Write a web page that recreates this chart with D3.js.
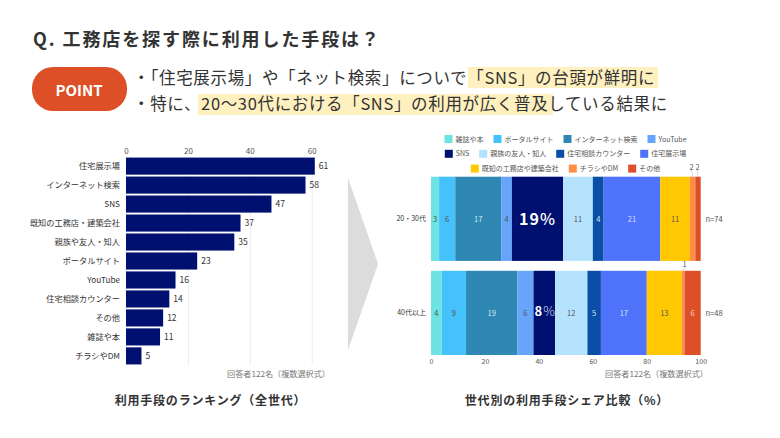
<!DOCTYPE html>
<html>
<head>
<meta charset="utf-8">
<script src="https://cdnjs.cloudflare.com/ajax/libs/d3/7.8.5/d3.min.js"></script>
<style>
  body { margin: 0; background: #fff; }
  text { font-family: "Noto Sans CJK JP", "Noto Sans", sans-serif; fill: #333; }
  .tick line { stroke: #eee; }
  .tick text { fill: #555; }
</style>
</head>
<body>
<div id="chart-area"></div>
<script>
// ranking (all generations)
let rankNames = ["住宅展示場", "インターネット検索", "SNS", "既知の工務店・建築会社", "親族や友人・知人", "ポータルサイト", "YouTube", "住宅相談カウンター", "その他", "雑誌や本", "チラシやDM"];
let rankValues = [61, 58, 47, 37, 35, 23, 16, 14, 12, 11, 5];

// share by generation
let shareNames = ["雑誌や本", "ポータルサイト", "インターネット検索", "YouTube", "SNS", "親族の友人・知人", "住宅相談カウンター", "住宅展示場", "既知の工務店や建築会社", "チラシやDM", "その他"];
let shareColors = ["#6ee3e3", "#45c1fb", "#2e88b3", "#66a5fb", "#001070", "#b5e2fd", "#0a4ea8", "#4f74fb", "#ffc800", "#ff8c47", "#dd4f26"];
let labelColors = ["#555", "#555", "#d5e8f2", "#555", "#fff", "#555", "#d5e8f2", "#d5e0ff", "#555", "#555", "#f5d5c8"];
let groups = ["20・30代", "40代以上"];
let groupN = ["n=74", "n=48"];
let young = [3, 6, 17, 4, 19, 11, 4, 21, 11, 2, 2];
let older = [4, 9, 19, 6, 8, 12, 5, 17, 13, 1, 6];
let legendRows = [[0, 1, 2, 3], [4, 5, 6, 7], [8, 9, 10]];

let svg = d3.select("#chart-area").append("svg")
    .attr("width", 780)
    .attr("height", 438);

// header
svg.append("text")
    .attr("x", 33).attr("y", 46)
    .attr("font-size", 18).attr("font-weight", 700)
    .attr("letter-spacing", 1.9)
    .text("Q. 工務店を探す際に利用した手段は？");

svg.append("rect").attr("x", 32).attr("y", 67).attr("width", 95).attr("height", 44).attr("rx", 21).attr("fill", "#dd4f26");
svg.append("text")
    .attr("x", 79).attr("y", 95.5)
    .attr("text-anchor", "middle")
    .attr("font-size", 15).attr("font-weight", 700)
    .style("fill", "#fff")
    .text("POINT");

svg.append("rect").attr("x", 468).attr("y", 67).attr("width", 190).attr("height", 21).attr("fill", "#fff0c0");
svg.append("rect").attr("x", 198).attr("y", 94).attr("width", 355).attr("height", 21).attr("fill", "#fff0c0");

svg.append("text")
    .attr("x", 133).attr("y", 84)
    .attr("font-size", 16.5).attr("letter-spacing", 0.65)
    .text("・「住宅展示場」や「ネット検索」についで「SNS」の台頭が鮮明に");
svg.append("text")
    .attr("x", 133).attr("y", 110)
    .attr("font-size", 16.5).attr("letter-spacing", 0.65)
    .text("・特に、20〜30代における「SNS」の利用が広く普及している結果に");

// ranking chart
let x = d3.scaleLinear().domain([0, 60]).range([126, 311.7]);
let y = d3.scaleBand().domain(rankNames).range([157, 365]).paddingInner(0.1).paddingOuter(0.03);

let xAxis = d3.axisTop(x).tickValues([0, 20, 40, 60]).tickSize(-208).tickPadding(3);
let xg = svg.append("g")
    .attr("transform", "translate(0,157)")
    .call(xAxis);
xg.select(".domain").remove();
xg.selectAll("text").attr("font-size", 8);

svg.selectAll(".bar")
    .data(rankNames)
  .enter().append("rect")
    .attr("class", "bar")
    .attr("x", x(0))
    .attr("y", d => y(d))
    .attr("width", (d, i) => x(rankValues[i]) - x(0))
    .attr("height", y.bandwidth())
    .attr("fill", "#001070");

svg.selectAll(".bar-value")
    .data(rankValues)
  .enter().append("text")
    .attr("class", "bar-value")
    .attr("x", d => x(d) + 4)
    .attr("y", (d, i) => y(rankNames[i]) + y.bandwidth() / 2 + 3)
    .attr("font-size", 8.5)
    .text(d => d);

svg.selectAll(".bar-name")
    .data(rankNames)
  .enter().append("text")
    .attr("class", "bar-name")
    .attr("x", 120)
    .attr("y", d => y(d) + y.bandwidth() / 2 + 3)
    .attr("text-anchor", "end")
    .attr("font-size", 8.2)
    .text(d => d);

svg.append("text")
    .attr("x", 227).attr("y", 377)
    .attr("font-size", 8.15).style("fill", "#777")
    .text("回答者122名（複数選択式）");
svg.append("text")
    .attr("x", 210.5).attr("y", 405)
    .attr("text-anchor", "middle")
    .attr("font-size", 12).attr("font-weight", 700).attr("letter-spacing", 0.8)
    .text("利用手段のランキング（全世代）");

// arrow between the charts
svg.append("path")
    .attr("d", "M348,178L378,264L348,350Z")
    .attr("fill", "#dcdcdc");

// share chart
let sx = d3.scaleLinear().domain([0, 100]).range([431, 700.7]);
let sy = d3.scaleBand().domain(groups).range([176.7, 355]).paddingInner(0.105);

let sxAxis = d3.axisBottom(sx).tickValues([0, 20, 40, 60, 80, 100]).tickSize(0).tickPadding(4);
let sxg = svg.append("g")
    .attr("transform", "translate(0,355)")
    .call(sxAxis);
sxg.select(".domain").remove();
sxg.selectAll("text").attr("font-size", 7);

[young, older].forEach(function(values, g) {
    let start = d3.cumsum([0].concat(values));
    let top = sy(groups[g]);
    let mid = top + sy.bandwidth() / 2;
    let cells = values.map((v, i) => ({v: v, i: i, s: start[i]}));
    let row = svg.append("g");

    row.selectAll("rect")
        .data(cells)
      .enter().append("rect")
        .attr("x", d => sx(d.s))
        .attr("y", top)
        .attr("width", d => sx(d.v) - sx(0))
        .attr("height", sy.bandwidth())
        .attr("fill", d => shareColors[d.i]);

    // SNS gets its own big label, tiny slices get leader lines
    row.selectAll("text")
        .data(cells.filter(d => d.v > 2 && d.i != 4))
      .enter().append("text")
        .attr("x", d => sx(d.s + d.v / 2))
        .attr("y", mid + 3)
        .attr("text-anchor", "middle")
        .attr("font-size", 7.5)
        .style("fill", d => labelColors[d.i]);
    row.selectAll("text").text(d => d.v);

    let sns = cells[4];
    let big = svg.append("text")
        .attr("x", sx(sns.s + sns.v / 2) + (g == 1 ? 1 : 0))
        .attr("y", mid + (g == 1 ? 3 : 6))
        .attr("text-anchor", "middle")
        .attr("font-weight", 500)
        .attr("font-size", g == 1 ? 13 : 16)
        .attr("letter-spacing", 1)
        .style("fill", "#fff");
    big.append("tspan").attr("font-weight", 700).text(sns.v);
    big.append("tspan").attr("font-weight", g == 1 ? 300 : 500).style("fill", g == 1 ? "#cdd6f0" : "#fff").text("%");

    let small = cells.filter(d => d.v <= 2);
    small.forEach(function(d, k) {
        let cx = sx(d.s + d.v / 2);
        let lx = g == 0 ? cx - 1 + k * 0.5 : cx + 1.5;
        let ly = g == 0 ? 170 : 267.5;
        svg.append("line")
            .attr("x1", cx).attr("x2", lx)
            .attr("y1", top).attr("y2", ly)
            .attr("stroke", "#aaa").attr("stroke-width", 0.5);
        svg.append("text")
            .attr("x", lx).attr("y", ly - 0.5)
            .attr("text-anchor", "middle")
            .attr("font-size", 7.5)
            .style("fill", "#555")
            .text(d.v);
    });

    svg.append("text")
        .attr("x", 426)
        .attr("y", mid + 2.5)
        .attr("text-anchor", "end")
        .attr("font-size", 7)
        .text(groups[g]);
    svg.append("text")
        .attr("x", 705.5)
        .attr("y", mid + 3)
        .attr("font-size", 7.5)
        .style("fill", "#555")
        .text(groupN[g]);
});

// legend, each row centred over the plot
legendRows.forEach(function(members, r) {
    let ly = 139 + r * 14.8;
    let row = svg.append("g");
    let cursor = 0;
    members.forEach(function(m) {
        row.append("rect")
            .attr("x", cursor).attr("y", ly - 4)
            .attr("width", 8).attr("height", 8)
            .attr("fill", shareColors[m]);
        let t = row.append("text")
            .attr("x", cursor + 11).attr("y", ly + 2.5)
            .attr("font-size", 7)
            .style("fill", "#555")
            .text(shareNames[m]);
        cursor += 11 + t.node().getComputedTextLength() + 10;
    });
    row.attr("transform", "translate(" + (565.5 - (cursor - 10) / 2) + ",0)");
});

svg.append("text")
    .attr("x", 605).attr("y", 377)
    .attr("font-size", 8.15).style("fill", "#777")
    .text("回答者122名（複数選択式）");
svg.append("text")
    .attr("x", 567).attr("y", 405)
    .attr("text-anchor", "middle")
    .attr("font-size", 12).attr("font-weight", 700).attr("letter-spacing", 0.8)
    .text("世代別の利用手段シェア比較（%）");
</script>
</body>
</html>
